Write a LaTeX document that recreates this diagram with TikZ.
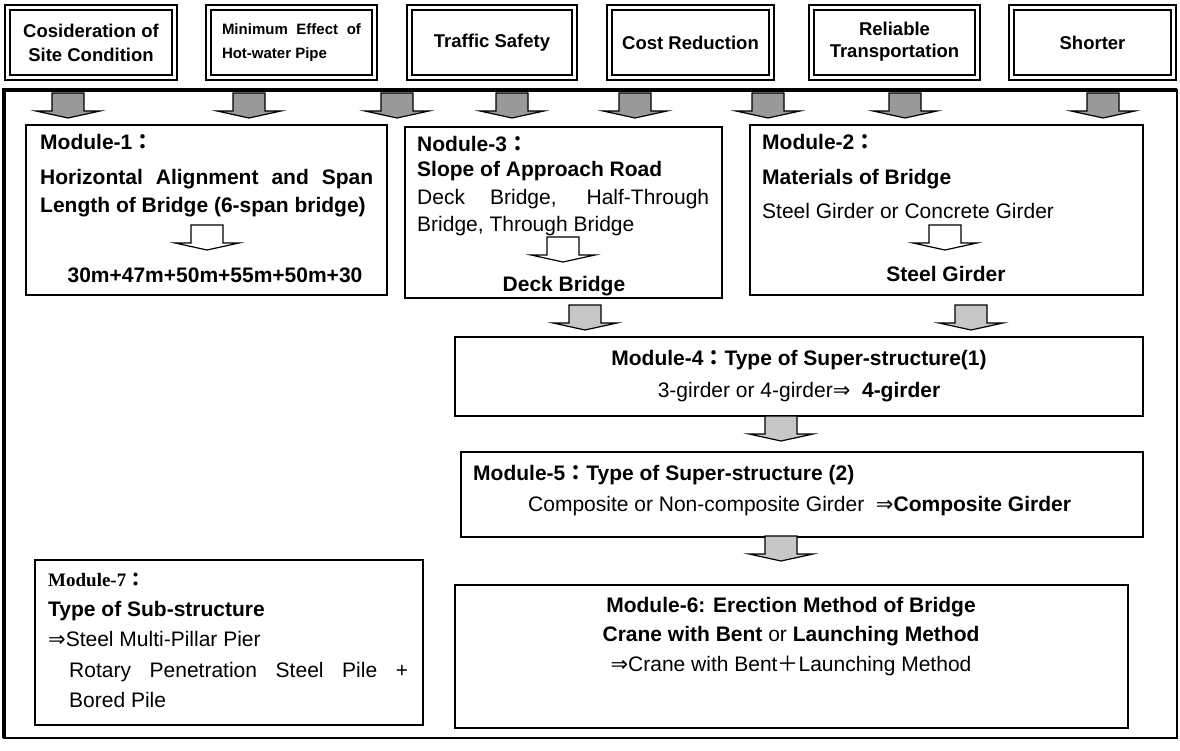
\documentclass[tikz,border=0pt]{standalone}
\usepackage{fontspec}
\setmainfont{Liberation Sans}
\newfontfamily\timesfont{Liberation Serif}
\newfontfamily\symfont{DejaVu Sans}
\newfontfamily\cjkfont{Noto Sans CJK JP}
\newcommand\fcolon{{\cjkfont ：}}
\newcommand\fplus{{\cjkfont ＋}}
\newcommand\dimp{{\symfont ⇒}}
\begin{document}
\begin{tikzpicture}[x=1pt,y=-1pt,
  txt/.style={font=\fontsize{21}{25}\selectfont, inner sep=0pt, anchor=base west},
  btxt/.style={font=\fontsize{21}{25}\selectfont\bfseries, inner sep=0pt, anchor=base west},
  ctxt/.style={font=\fontsize{21}{25}\selectfont, inner sep=0pt, anchor=base},
  bctxt/.style={font=\fontsize{21}{25}\selectfont\bfseries, inner sep=0pt, anchor=base},
  topbox/.style={draw, double, line width=2.3pt, double distance=2.3pt, minimum height=70, inner sep=0pt,
     font=\fontsize{18.5}{24}\selectfont\bfseries, align=center},
  modbox/.style={draw, line width=1.5pt, inner sep=0pt},
  blk/.pic={\path[pic actions] (-16,0) -- (16,0) -- (16,18) -- (32,18) -- (0,25) -- (-32,18) -- (-16,18) -- cycle;},
  darkarrow/.style={draw, line width=1.2pt, fill=black!40},
  lightarrow/.style={draw, line width=1.2pt, fill=black!22},
  whitearrow/.style={draw, line width=1.2pt, fill=white}
]
\useasboundingbox (0,0) rectangle (1180,751);

% top criteria boxes
\node[topbox, minimum width=167] (t1) at (91,42.5) {Cosideration of\\Site Condition};
\node[topbox, minimum width=166, font=\fontsize{15}{24}\selectfont\bfseries, align=left] (t2) at (291.5,42.5) {\makebox[139pt][s]{Minimum Effect of}\\Hot-water Pipe};
\node[topbox, minimum width=165] (t3) at (492,42.5) {Traffic Safety};
\node[topbox, minimum width=162] (t4) at (690.5,42.5) {Cost Reduction};
\node[topbox, minimum width=166] (t5) at (894.5,42.5) {};
\node[font=\fontsize{18.5}{22}\selectfont\bfseries, align=center, inner sep=0pt] (t5txt) at (894.5,41.5) {Reliable\\Transportation};
\node[topbox, minimum width=162] (t6) at (1092.5,42.5) {Shorter};

% outer frame
\draw[line width=1.5pt] (4,90) rectangle (1177,738);
\draw[line width=3.5pt] (4,738) -- (4,90) -- (1177,90);

% top gray arrows
\foreach \ax in {68,249,397,512,635,768,905,1103}
  \pic[darkarrow] at (\ax,93) {blk};

% Module-1
\node[modbox, minimum width=361, minimum height=170] (m1) at (206.5,210) {};
\node[btxt] (m1a) at (40,150) {Module-1\fcolon};
\node[btxt] (m1b) at (40,185) {\makebox[333pt][s]{Horizontal Alignment and Span}};
\node[btxt] (m1c) at (40,213) {Length of Bridge (6-span bridge)};
\pic[whitearrow] at (207,225) {blk};
\node[bctxt] (m1d) at (215,283) {30m+47m+50m+55m+50m+30};

% Nodule-3
\node[modbox, minimum width=317, minimum height=171] (m3) at (563.5,212.5) {};
\node[btxt] (m3a) at (417,152) {Nodule-3\fcolon};
\node[btxt] (m3b) at (417,177) {Slope of Approach Road};
\node[txt] (m3c) at (417,205) {\makebox[292pt][s]{Deck Bridge, Half-Through}};
\node[txt] (m3d) at (417,232) {Bridge, Through Bridge};
\pic[whitearrow] at (563,237) {blk};
\node[bctxt] (m3e) at (564,291) {Deck Bridge};

% Module-2
\node[modbox, minimum width=393, minimum height=170] (m2) at (946.5,210) {};
\node[btxt] (m2a) at (762,150) {Module-2\fcolon};
\node[btxt] (m2b) at (762,185) {Materials of Bridge};
\node[txt] (m2c) at (762,219) {Steel Girder or Concrete Girder};
\pic[whitearrow] at (945,225) {blk};
\node[bctxt] (m2d) at (946,282) {Steel Girder};

% arrows to Module-4
\pic[lightarrow] at (585,305) {blk};
\pic[lightarrow] at (971,305) {blk};

% Module-4
\node[modbox, minimum width=688, minimum height=79] (m4) at (799,376.5) {};
\node[bctxt] (m4a) at (799,365) {Module-4\fcolon Type of Super-structure(1)};
\node[ctxt] (m4b) at (799,397) {3-girder or 4-girder\dimp\ \ {\bfseries 4-girder}};

\pic[lightarrow] at (781,416) {blk};

% Module-5
\node[modbox, minimum width=682, minimum height=85] (m5) at (802,494.5) {};
\node[btxt] (m5a) at (473,480) {Module-5\fcolon Type of Super-structure (2)};
\node[txt] (m5b) at (528,511) {Composite or Non-composite Girder \ \dimp{\bfseries Composite Girder}};

\pic[lightarrow] at (781,536) {blk};

% Module-6
\node[modbox, minimum width=673, minimum height=143] (m6) at (791.5,656.5) {};
\node[bctxt] (m6a) at (791,612) {Module-6: Erection Method of Bridge};
\node[ctxt] (m6b) at (791,641) {{\bfseries Crane with Bent} or {\bfseries Launching Method}};
\node[ctxt] (m6c) at (791,671) {\dimp Crane with Bent\fplus Launching Method};

% Module-7
\node[modbox, minimum width=388, minimum height=165] (m7) at (229,642.5) {};
\node[inner sep=0pt, anchor=base west, font=\fontsize{19}{25}\selectfont\timesfont\bfseries] (m7a) at (48,586) {Module-7\fcolon};
\node[btxt] (m7b) at (48,616) {Type of Sub-structure};
\node[txt] (m7c) at (48,646) {\dimp Steel Multi-Pillar Pier};
\node[txt] (m7d) at (69,677) {\makebox[339pt][s]{Rotary Penetration Steel Pile +}};
\node[txt] (m7e) at (69,707) {Bored Pile};
\end{tikzpicture}
\end{document}
